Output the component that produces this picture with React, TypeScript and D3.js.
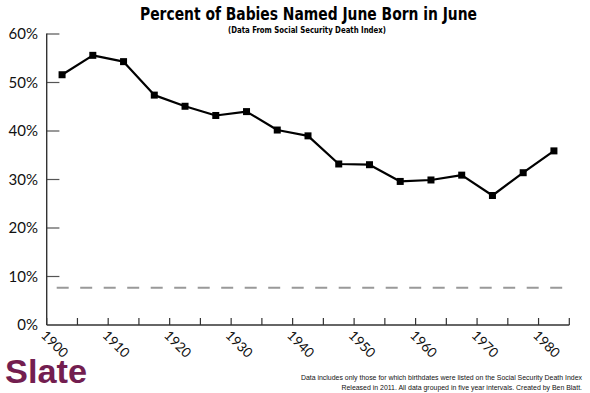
import React from "react";
import * as d3 from "d3";

const years = [1902.5, 1907.5, 1912.5, 1917.5, 1922.5, 1927.5, 1932.5, 1937.5, 1942.5, 1947.5, 1952.5, 1957.5, 1962.5, 1967.5, 1972.5, 1977.5, 1982.5];
const pct = [51.6, 55.6, 54.3, 47.4, 45.1, 43.2, 44.0, 40.2, 39.0, 33.2, 33.05, 29.6, 29.9, 30.9, 26.7, 31.4, 35.9];
const yTicks = [0, 10, 20, 30, 40, 50, 60];
const xMinorTicks = [1900, 1905, 1910, 1915, 1920, 1925, 1930, 1935, 1940, 1945, 1950, 1955, 1960, 1965, 1970, 1975, 1980, 1985];
const xLabels = [1900, 1910, 1920, 1930, 1940, 1950, 1960, 1970, 1980];
const baseline = 7.7;

export default function App() {
  const W = 590, H = 393;
  const x = d3.scaleLinear().domain([1900, 1985]).range([46.7, 569.3]);
  const y = d3.scaleLinear().domain([0, 60]).range([325, 34]);
  const line = d3.line<number>().x((d, i) => x(years[i])).y(d => y(d));
  const m = 7;
  return (
    <svg width={W} height={H} style={{ position: "absolute", left: 0, top: 0 }}>
      <rect width={W} height={H} fill="#fff" />
      <text x={140} y={20} fontFamily="'DejaVu Sans Condensed', 'Liberation Sans Narrow', sans-serif" fontWeight="bold" fontSize={18} textLength={337} lengthAdjust="spacingAndGlyphs" fill="#000">Percent of Babies Named June Born in June</text>
      <text x={228} y={32.5} fontFamily="'DejaVu Sans Condensed', 'Liberation Sans Narrow', sans-serif" fontWeight="bold" fontSize={8.5} textLength={158} lengthAdjust="spacingAndGlyphs" fill="#000">(Data From Social Security Death Index)</text>

      {yTicks.map(t => (
        <g key={t}>
          {t > 0 && <line x1={x(1900)} x2={x(1900) + 12.7} y1={y(t)} y2={y(t)} stroke="#555" strokeWidth={1.2} />}
          <text x={38} y={y(t)} dy="0.36em" textAnchor="end" fontFamily="Lato, 'Open Sans', sans-serif" fontSize={15} fill="#111">{t}%</text>
        </g>
      ))}
      {xMinorTicks.map(t => (
        <line key={t} x1={x(t)} x2={x(t)} y1={y(0)} y2={y(0) - 7} stroke="#333" strokeWidth={1.2} />
      ))}
      {xLabels.map(t => (
        <text key={t} transform={`translate(${x(t) + 1},${y(0) + 4}) rotate(45)`} dominantBaseline="hanging" fontFamily="Lato, 'Open Sans', sans-serif" fontSize={13.5} fill="#111">{t}</text>
      ))}
      <line x1={x(1900)} x2={x(1900)} y1={y(60) - 0.5} y2={y(0)} stroke="#333" strokeWidth={1.4} />
      <line x1={x(1900)} x2={x(1985)} y1={y(0)} y2={y(0)} stroke="#333" strokeWidth={1.4} />

      <line x1={x(1900)} x2={x(1985)} y1={y(baseline)} y2={y(baseline)} stroke="#999" strokeWidth={2} strokeDasharray="12,11.5" strokeDashoffset={-10} />

      <path d={line(pct) || ""} fill="none" stroke="#000" strokeWidth={2.2} strokeLinejoin="round" />
      {pct.map((v, i) => (
        <rect key={i} x={x(years[i]) - m / 2} y={y(v) - m / 2} width={m} height={m} fill="#000" />
      ))}

      <text x={5} y={383} fontFamily="'Liberation Sans', Arial, sans-serif" fontWeight="bold" fontSize={33} textLength={82} lengthAdjust="spacingAndGlyphs" fill="#731e50">Slate</text>

      <text x={582} y={380} textAnchor="end" fontFamily="'Liberation Sans Narrow', sans-serif" fontSize={6.95} fill="#111">Data includes only those for which birthdates were listed on the Social Security Death Index</text>
      <text x={582} y={390} textAnchor="end" fontFamily="'Liberation Sans Narrow', sans-serif" fontSize={6.95} fill="#111">Released in 2011. All data grouped in five year intervals. Created by Ben Blatt.</text>
    </svg>
  );
}
